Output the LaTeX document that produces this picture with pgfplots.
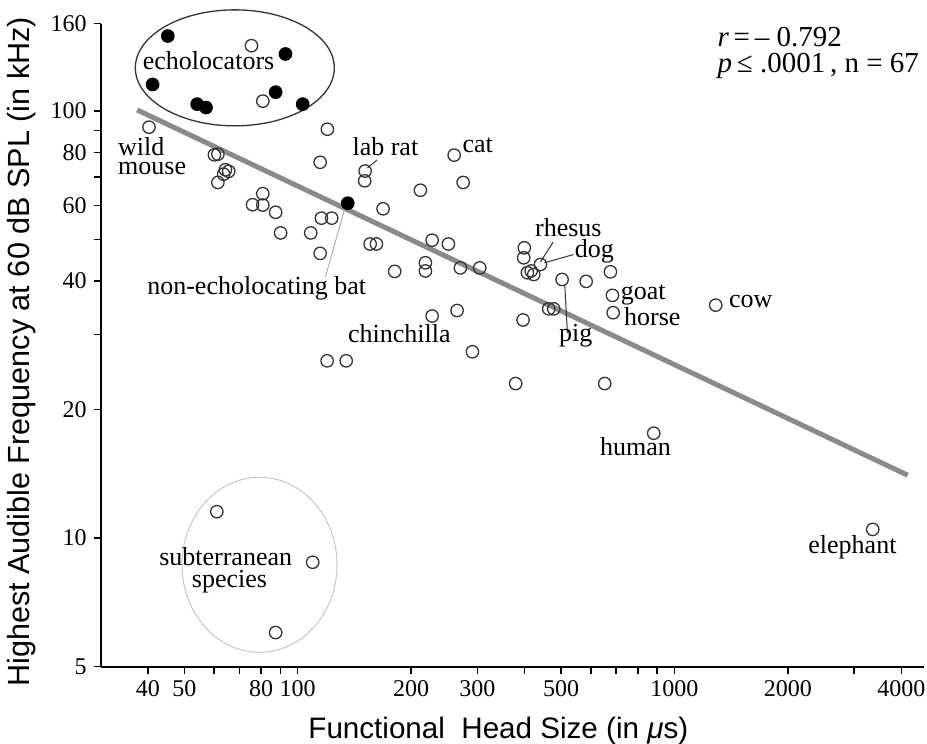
\documentclass[border=0pt]{standalone}
\usepackage{pgfplots}
\pgfplotsset{compat=1.18}
\usepackage{fontspec}
\setmainfont{Liberation Serif}
\newfontfamily\sansf{Liberation Sans}
\newcommand\annot{\fontsize{13bp}{15bp}\selectfont}
\newcommand\tickf{\fontsize{12bp}{14bp}\selectfont}
\newcommand\labf{\sansf\fontsize{14.8bp}{17bp}\selectfont}
\definecolor{mk}{gray}{0.2}
\definecolor{regl}{gray}{0.54}
\begin{document}
\begin{tikzpicture}
\path[use as bounding box] (-50.35bp,-38.65bp) rectangle (413.15bp,333.35bp);
\begin{axis}[
  at={(0,0)}, anchor=south west, scale only axis,
  width=411.7bp, height=321.5bp,
  xmode=log, ymode=log,
  xmin=30, xmax=4600, ymin=5, ymax=160,
  axis x line*=bottom, axis y line*=left,
  axis line style={-, line width=1bp, black},
  xtick={40,50,60,70,80,90,100,200,300,400,500,600,700,800,900,1000,2000,3000,4000},
  xticklabels={40,50,,,80,,100,200,300,,500,,,,,1000,2000,,4000},
  ytick={5,10,20,30,40,50,60,70,80,90,100,160},
  yticklabels={5,10,20,,40,,60,,80,,100,160},
  minor tick num=0,
  tick align=outside, major tick length=3.5bp,
  tick style={line width=0.75bp, black},
  ticklabel style={font=\tickf},
  /pgf/number format/assume math mode=true,
  clip=false,
]
% regression line
\addplot[regl, line width=2.5bp] coordinates {(37.5,100.5) (4163,14.03)};

% open circles
\addplot[only marks, mark=o, mark size=3.1bp, mark options={line width=0.65bp, draw=mk}] table {
x y
75.4 142.1
80.8 105.4
40.3 91.6
119.9 90.6
60.1 78.9
61.4 79.2
64.3 72.8
65.6 72.2
63.6 71.1
61.4 68.0
114.7 75.8
151.0 72.3
150.6 68.6
260.2 78.8
274.9 68.0
211.7 65.2
80.8 64.0
75.9 60.3
80.8 60.2
87.4 57.9
90.1 51.8
108.3 51.8
115.6 56.1
123.1 56.1
114.7 46.4
168.5 59.0
155.7 48.8
161.8 48.8
180.9 42.1
227.4 49.8
251.2 48.8
218.3 44.1
218.3 42.2
270.3 42.9
304.2 42.9
227.4 33.1
264.9 34.1
399.6 47.8
398.1 45.3
441.0 43.7
416.6 42.2
423.3 41.4
407.1 41.8
503.3 40.3
583.0 39.9
676.2 42.0
684.6 37.0
687.6 33.7
1287 35.1
463.8 34.4
478.2 34.4
396.5 32.4
119.7 26.0
134.5 26.0
290.9 27.3
61.0 11.53
109.6 8.78
87.4 6.01
379.0 23.0
653.1 23.0
881.1 17.6
3360 10.48
};

% filled circles
\addplot[only marks, mark=*, mark size=3.1bp, mark options={line width=0.65bp, draw=black, fill=black}] table {
x y
45.2 149.7
41.2 115.3
54.1 103.7
57.1 101.8
92.8 135.9
87.4 110.6
103.1 103.7
135.8 60.8
};

% group ellipses
\draw[line width=0.65bp, mk] (axis cs:68.1,126.1) ellipse [x radius=49.75bp, y radius=29bp];
\draw[line width=0.5bp, gray!45] (axis cs:79.2,8.66) ellipse [x radius=38.75bp, y radius=43.75bp];

% leader lines
\draw[line width=0.5bp, mk] (axis cs:162.5,76.8) -- (axis cs:153.1,73.5);
\draw[line width=0.5bp, gray!60] (axis cs:118.5,40.9) -- (axis cs:133.0,58.6);
\draw[line width=0.5bp, mk] (axis cs:476.4,49.3) -- (axis cs:441,44.3);
\draw[line width=0.5bp, mk] (axis cs:539.5,46.1) -- (axis cs:451.8,44.1);
\draw[line width=0.5bp, mk] (axis cs:511.4,39.2) -- (axis cs:520,30.2);

% annotations
\node[anchor=base, inner sep=0, font=\annot] at (axis cs:58.0,124.7) {echolocators};
\node[anchor=base west, inner sep=0, font=\annot] at (axis cs:33.3,78.5) {wild};
\node[anchor=base west, inner sep=0, font=\annot] at (axis cs:33.3,71.1) {mouse};
\node[anchor=base west, inner sep=0, font=\annot] at (axis cs:139.5,78.5) {lab rat};
\node[anchor=base west, inner sep=0, font=\annot] at (axis cs:273.2,80.1) {cat};
\node[anchor=base west, inner sep=0, font=\annot] at (axis cs:39.8,37.2) {non-echolocating bat};
\node[anchor=base west, inner sep=0, font=\annot] at (axis cs:135.8,28.7) {chinchilla};
\node[anchor=base west, inner sep=0, font=\annot] at (axis cs:425.8,50.9) {rhesus};
\node[anchor=base west, inner sep=0, font=\annot] at (axis cs:542.8,45.3) {dog};
\node[anchor=base west, inner sep=0, font=\annot] at (axis cs:493.0,28.8) {pig};
\node[anchor=base west, inner sep=0, font=\annot] at (axis cs:719.0,36.2) {goat};
\node[anchor=base west, inner sep=0, font=\annot] at (axis cs:733.7,31.4) {horse};
\node[anchor=base west, inner sep=0, font=\annot] at (axis cs:1394,34.6) {cow};
\node[anchor=base, inner sep=0, font=\annot] at (axis cs:787.9,15.58) {human};
\node[anchor=base, inner sep=0, font=\annot] at (axis cs:2968,9.18) {elephant};
\node[anchor=base, inner sep=0, font=\annot] at (axis cs:64.4,8.62) {subterranean};
\node[anchor=base, inner sep=0, font=\annot] at (axis cs:65.9,7.67) {species};
\node[anchor=base west, inner sep=0, font=\fontsize{14.5bp}{16bp}\selectfont] at (axis cs:1298,141.4) {\textit{r}\,=\,– 0.792};
\node[anchor=base west, inner sep=0, font=\fontsize{14.5bp}{16bp}\selectfont] at (axis cs:1298,122.9) {\textit{p}\,≤ .0001\,, n = 67};

% axis labels
\node[anchor=base, inner sep=0, font=\labf] at ([yshift=-35.8bp]axis description cs:0.4829,0) {Functional\ \ Head Size (in \textit{μ}s)};
\node[rotate=90, anchor=center, inner sep=0, font=\sansf\fontsize{15.3bp}{17bp}\selectfont] at ([xshift=-39.35bp, yshift=-3.3bp]axis description cs:0,0.5) {Highest Audible Frequency at 60 dB SPL (in kHz)};
\end{axis}
\end{tikzpicture}
\end{document}
